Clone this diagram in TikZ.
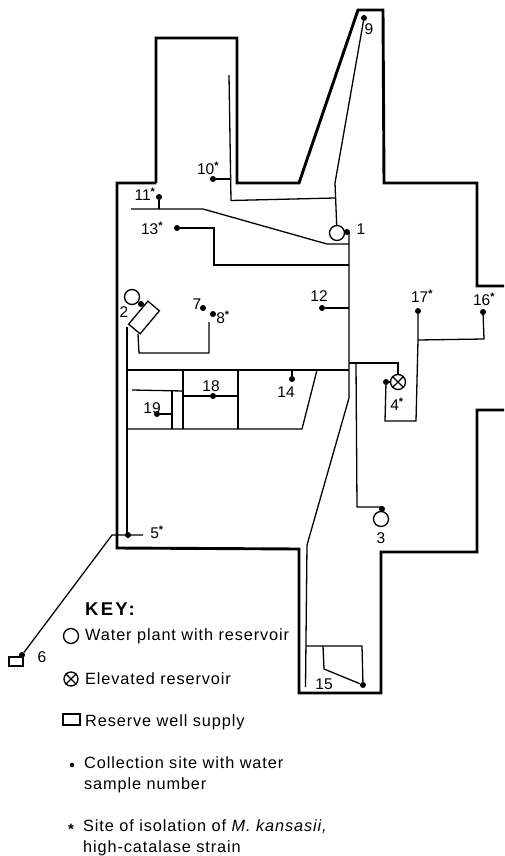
\documentclass[tikz,border=0pt]{standalone}
\usepackage{fontspec}
\setmainfont{Liberation Sans}
\newfontfamily\keyfont[LetterSpace=5.5]{Liberation Sans}
\newfontfamily\headfont[LetterSpace=12]{Liberation Sans}
\newcommand{\st}{\textsuperscript{\textbf{*}}}

\tikzset{
  wall/.style={line width=2.9pt,line join=miter},
  pipe/.style={line width=1.3pt},
  site/.style={circle,fill=black,inner sep=0pt,minimum size=6pt},
  plant/.style={circle,draw,line width=1.3pt,inner sep=0pt,minimum size=15pt},
  well/.style={rectangle,draw,line width=1.3pt,inner sep=0pt},
  num/.style={font=\fontsize{15.5}{17}\selectfont,inner sep=0pt},
  keytext/.style={font=\keyfont\fontsize{16.3}{21.5}\selectfont,inner sep=0pt,anchor=west,align=left}
}

\begin{document}
\begin{tikzpicture}[x=1pt,y=-1pt]
  \useasboundingbox (0,0) rectangle (504,856);
  % building outline
  \draw[wall] (156,183) -- (156,38) -- (237,38) -- (237,183) -- (299,183) -- (358,10) -- (383,10)
    -- (384,183) -- (477,183) -- (477,286) -- (504,286);
  \draw[wall] (504,410) -- (477,410) -- (477,552) -- (381,552) -- (381,693) -- (299,693)
    -- (299,549) -- (117,548) -- (117,183) -- (156,183);
  % plants and reservoirs
  \node[plant] (plant1) at (337,233) {};
  \node[plant] (plant2) at (132,297) {};
  \node[plant] (plant3) at (381,519) {};
  \node[plant] (tower4) at (398,382) {};
  \draw[pipe] (tower4.45) -- (tower4.225) (tower4.135) -- (tower4.315);
  \node[well,rotate=50,minimum width=30pt,minimum height=15pt] (tank2) at (144,317.5) {};
  \node[well,minimum width=14pt,minimum height=9pt] (well6) at (16,661.5) {};
  % collection sites
  \node[site] (s4) at (386,382) {};
  \node[site] (s5) at (128,535) {};
  \node[site] (s6) at (22,655) {};
  \node[site] (s7) at (203,308) {};
  \node[site] (s8) at (213,314) {};
  \node[site] (s9) at (364,18) {};
  \node[site] (s10) at (213,179) {};
  \node[site] (s11) at (159,197) {};
  \node[site] (s12) at (322,308) {};
  \node[site] (s13) at (177,228) {};
  \node[site] (s14) at (292,379) {};
  \node[site] (s15) at (363,685) {};
  \node[site] (s16) at (483,312) {};
  \node[site] (s17) at (418,311) {};
  \node[site] (s18) at (213,396) {};
  \node[site] (s19) at (157,414) {};
  \node[site] (s1) at (347,232) {};
  \node[site] (s2) at (141,304) {};
  \node[site] (s3) at (382,509) {};
  % main lines
  \coordinate (bend1) at (335,183);
  \coordinate (tee10) at (335,198);
  \coordinate (top10) at (229,75);
  \coordinate (tee11) at (159,209);
  \coordinate (main) at (349,363);
  \coordinate (sl) at (349,398);
  \coordinate (tee5) at (112,535);
  \draw[pipe] (plant1) -- (bend1) -- (s9);
  \draw[pipe] (tee10) -- (231,200.5) -- (top10);
  \draw[pipe] (s10) -- (230,179);
  \draw[pipe] (s11) -- (tee11);
  \draw[pipe] (131,209) -- (203,209) -- (327,244) -- (349,244);
  \draw[pipe] (s13) -- (214,228) -- (214,265) -- (349,265);
  \draw[pipe] (s1) -- (349,233) -- (main) -- (sl) -- (307,545) -- (305.5,687);
  \draw[pipe] (s12) -- (349,308);
  \draw[pipe] (plant2) -- (s2);
  \draw[pipe] (127,327) -- (127,535);
  \draw[pipe] (138,334) -- (139,353) -- (209,353) -- (209,322);
  \draw[pipe] (143,535) -- (tee5) -- (s6);
  % quarters on the west side
  \draw[pipe] (127,370) -- (349,370);
  \draw[pipe] (317,370) -- (302,429) -- (128,429);
  \draw[pipe] (183,370) -- (183,429);
  \draw[pipe] (238,370) -- (238,429);
  \draw[pipe] (132,390) -- (183,391);
  \draw[pipe] (172,391) -- (172,429);
  \draw[pipe] (184,396) -- (238,396);
  \draw[pipe] (s19) -- (172,414);
  \draw[pipe] (s14) -- (292,370);
  % east side
  \draw[pipe] (main) -- (398,363) -- (tower4);
  \draw[pipe] (s4) -- (tower4);
  \draw[pipe] (s4) -- (385,421) -- (416,421) -- (418,340) -- (s17);
  \draw[pipe] (418,340) -- (484,339) -- (s16);
  \draw[pipe] (356,363) -- (357,507) -- (382,507) -- (plant3);
  % south wing
  \draw[pipe] (306,646) -- (362,646) -- (s15);
  \draw[pipe] (323,646) -- (324,669) -- (s15);
  % numbers
  \node[num] (n1) at (361,229) {1};
  \node[num] (n2) at (124,312) {2};
  \node[num] (n3) at (381,538) {3};
  \node[num] (n4) at (397,404) {4\st};
  \node[num] (n5) at (157,532) {5\st};
  \node[num] (n6) at (42,657) {6};
  \node[num] (n7) at (197,304) {7};
  \node[num] (n8) at (223,317) {8\st};
  \node[num] (n9) at (369,29) {9};
  \node[num] (n10) at (208,168) {10\st};
  \node[num] (n11) at (145,194) {11\st};
  \node[num] (n13) at (152,228) {13\st};
  \node[num] (n12) at (319,296) {12};
  \node[num] (n14) at (286,392) {14};
  \node[num] (n15) at (324,684) {15};
  \node[num] (n16) at (484,299) {16\st};
  \node[num] (n17) at (422,296) {17\st};
  \node[num] (n18) at (211,386) {18};
  \node[num] (n19) at (152,408) {19};
  % key
  \node[keytext,font=\headfont\fontsize{18.5}{20}\selectfont\bfseries] (keyhead) at (85,609) {KEY:};
  \node[plant] (keyplant) at (71,636) {};
  \node[keytext] (keytext1) at (85,636) {Water plant with reservoir};
  \node[plant,minimum size=14pt] (keytower) at (71,679) {};
  \draw[pipe] (keytower.45) -- (keytower.225) (keytower.135) -- (keytower.315);
  \node[keytext] (keytext2) at (85,679) {Elevated reservoir};
  \node[well,minimum width=17pt,minimum height=11pt] (keywell) at (71.5,719.5) {};
  \node[keytext] (keytext3) at (85,722) {Reserve well supply};
  \node[site,minimum size=4.5pt] (keysite) at (72,765) {};
  \node[keytext] (keytext4) at (84,775) {Collection site with water\\sample number};
  \node[inner sep=0pt,font=\fontsize{15}{16}\selectfont\bfseries] (keystar) at (71,829) {*};
  \node[keytext] (keytext5) at (83,838) {Site of isolation of \textit{M. kansasii,}\\high-catalase strain};
\end{tikzpicture}
\end{document}
